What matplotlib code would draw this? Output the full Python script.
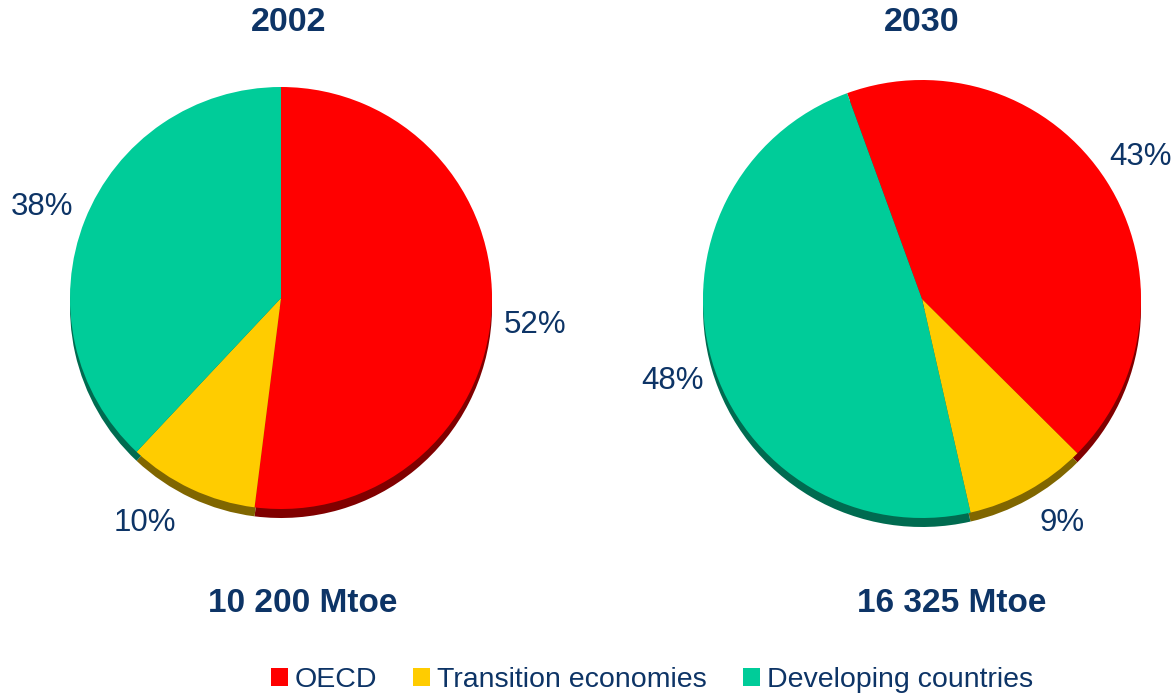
import matplotlib.pyplot as plt
from matplotlib.patches import Patch

plt.rcParams['font.family'] = ['Liberation Sans', 'DejaVu Sans']

categories = ['OECD', 'Transition economies', 'Developing countries']
shares_2002 = [52, 10, 38]
shares_2030 = [43, 9, 48]
totals = ['10 200 Mtoe', '16 325 Mtoe']
years = ['2002', '2030']

colors = ['#FF0000', '#FFCC00', '#00CC99']
dark = ['#800000', '#806600', '#006B50']
navy = '#0D3466'

W, H = 1172, 694
fig = plt.figure(figsize=(W / 100, H / 100), dpi=100)
ax = fig.add_axes([0, 0, 1, 1])

def Y(y):
    # image-style y (from top) to data y
    return H - y

pies = [
    # center x, center y, radius, start angle
    (281, 298, 211, 90),
    (922, 299, 219, 110),
]
depth = 9

for (cx, cy, r, start), vals in zip(pies, [shares_2002, shares_2030]):
    ax.pie(vals, colors=dark, startangle=start, counterclock=False,
           center=(cx, Y(cy) - depth), radius=r,
           wedgeprops=dict(linewidth=0))
    ax.pie(vals, colors=colors, startangle=start, counterclock=False,
           center=(cx, Y(cy)), radius=r,
           wedgeprops=dict(linewidth=0))

ax.set_xlim(0, W)
ax.set_ylim(0, H)
ax.set_aspect('equal')
ax.axis('off')

# percent labels
label_pos_2002 = [(535, 325), (145, 523), (42, 207)]
label_pos_2030 = [(1140, 157), (1062, 523), (672, 381)]
for vals, pos in [(shares_2002, label_pos_2002), (shares_2030, label_pos_2030)]:
    for v, (x, y) in zip(vals, pos):
        ax.text(x, Y(y), f'{v}%', ha='center', va='center',
                fontsize=22.5, color=navy)

# titles and totals
for x, yr, tot, tx in [(289, years[0], totals[0], 303), (922, years[1], totals[1], 952)]:
    ax.text(x, Y(22), yr, ha='center', va='center', fontsize=24.5,
            fontweight='bold', color=navy)
    ax.text(tx, Y(603), tot, ha='center', va='center', fontsize=24,
            fontweight='bold', color=navy)

handles = [Patch(facecolor=c, edgecolor='none') for c in colors]
leg = fig.legend(handles, categories, loc='center', bbox_to_anchor=(652 / W, 1 - 680 / H),
                 ncol=3, frameon=False, fontsize=20.5, handlelength=0.6,
                 handleheight=0.6, handletextpad=0.25, columnspacing=1.25)
for t in leg.get_texts():
    t.set_color(navy)

fig.savefig('out.png', dpi=100)
